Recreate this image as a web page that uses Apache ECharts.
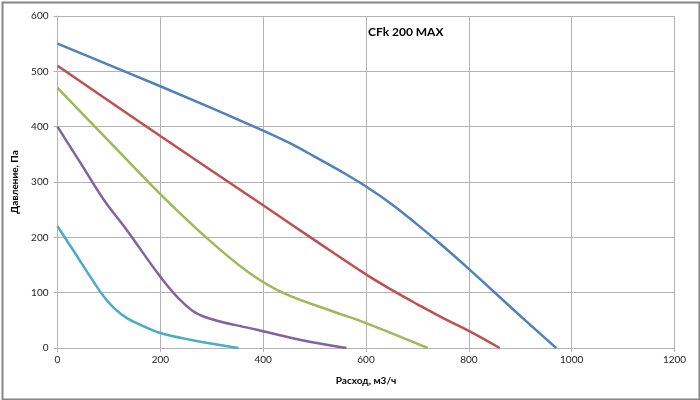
<!DOCTYPE html>
<html>
<head>
<meta charset="utf-8">
<script src="https://cdn.jsdelivr.net/npm/echarts@6/dist/echarts.min.js"></script>
<style>
html,body{margin:0;padding:0;background:#fff;}
#c{width:700px;height:400px;}
</style>
</head>
<body>
<div id="c"></div>
<script>
var chartTitle = 'CFk 200 MAX';
var xAxisName = 'Расход, м3/ч';
var yAxisName = 'Давление, Па';
var xTicks = [0, 200, 400, 600, 800, 1000, 1200];
var yTicks = [0, 100, 200, 300, 400, 500, 600];

var blueX = [0, 200, 400, 450, 500, 550, 600, 650, 700, 750, 800, 900, 970];
var blueY = [550, 473, 393, 371, 346, 320, 292, 260, 223, 184, 143, 58, 0];

var redX = [0, 200, 400, 500, 600, 650, 700, 750, 800, 860];
var redY = [510, 383, 258, 195, 133, 105, 79, 54, 31, 0];

var greenX = [0, 100, 200, 290, 374, 440, 536, 600, 720];
var greenY = [470, 374, 278, 199, 135, 99, 66, 45, 0];

var purpleX = [0, 45, 90, 135, 200, 245, 284, 388, 471, 562];
var purpleY = [400, 334, 268, 213, 129, 81, 57, 33, 15, 0];

var cyanX = [0, 40, 70, 90, 110, 135, 168, 200, 258, 352];
var cyanY = [220, 163, 120, 93, 72, 54, 39, 27, 15, 0];

function pairs(xs, ys) { return xs.map(function (x, i) { return [x, ys[i]]; }); }

var colors = ['#4F81BD', '#C0504D', '#9BBB59', '#8064A2', '#4BACC6'];
var seriesData = [pairs(blueX, blueY), pairs(redX, redY), pairs(greenX, greenY), pairs(purpleX, purpleY), pairs(cyanX, cyanY)];

var chart = echarts.init(document.getElementById('c'), null, {renderer: 'canvas'});
var fontFam = 'Lato, "Liberation Sans", sans-serif';
chart.setOption({
  animation: false,
  backgroundColor: '#fff',
  title: {
    text: chartTitle,
    left: 363, top: 21,
    textStyle: {fontSize: 12, fontWeight: 'bold', color: '#000', fontFamily: fontFam}
  },
  grid: {left: 57.5, right: 25.5, top: 16, bottom: 52},
  xAxis: {
    type: 'value', min: xTicks[0], max: xTicks[xTicks.length - 1], interval: 200,
    name: xAxisName, nameLocation: 'middle', nameGap: 28,
    nameTextStyle: {fontSize: 10, fontWeight: 'bold', color: '#000', fontFamily: fontFam},
    axisLine: {show: true, lineStyle: {color: '#b3b3b3', width: 1}},
    axisTick: {show: true, length: 4, lineStyle: {color: '#b3b3b3'}},
    axisLabel: {fontSize: 10, color: '#222', margin: 7, fontFamily: fontFam,
      formatter: function (v) { return String(v); }},
    splitLine: {show: true, lineStyle: {color: '#b3b3b3', width: 1}}
  },
  yAxis: {
    type: 'value', min: yTicks[0], max: yTicks[yTicks.length - 1], interval: 100,
    name: yAxisName, nameLocation: 'middle', nameGap: 34, nameRotate: 90,
    nameTextStyle: {fontSize: 10, fontWeight: 'bold', color: '#000', fontFamily: fontFam},
    axisLine: {show: true, lineStyle: {color: '#b3b3b3', width: 1}},
    axisTick: {show: true, length: 4, lineStyle: {color: '#b3b3b3'}},
    axisLabel: {fontSize: 10, color: '#222', margin: 9, fontFamily: fontFam,
      formatter: function (v) { return String(v); }},
    splitLine: {show: true, lineStyle: {color: '#b3b3b3', width: 1}}
  },
  series: seriesData.map(function (d, i) {
    return {
      type: 'line', data: d, smooth: 0.4,
      showSymbol: false, symbol: 'none',
      lineStyle: {color: colors[i], width: 2.5},
      itemStyle: {color: colors[i]}
    };
  }),
  graphic: [{
    type: 'rect', left: 0, top: 0, z: 100, silent: true,
    shape: {x: 1, y: 1, width: 697, height: 397},
    style: {fill: 'none', stroke: '#868686', lineWidth: 2}
  }]
});
</script>
</body>
</html>
